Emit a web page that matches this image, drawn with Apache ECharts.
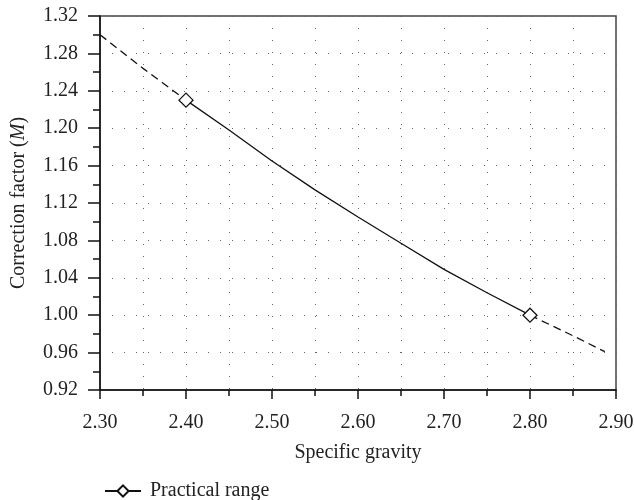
<!DOCTYPE html>
<html>
<head>
<meta charset="utf-8">
<script src="https://cdn.jsdelivr.net/npm/echarts@6/dist/echarts.min.js"></script>
<style>html,body{margin:0;padding:0;background:#fff}#c{width:634px;height:500px}</style>
</head>
<body>
<div id="c"></div>
<script>
// Data
var xPractical = [2.40, 2.45, 2.50, 2.55, 2.60, 2.65, 2.70, 2.75, 2.80];
var yPractical = [1.230, 1.198, 1.165, 1.134, 1.105, 1.077, 1.049, 1.024, 1.000];
var xLowExt = [2.30, 2.35, 2.40];
var yLowExt = [1.300, 1.264, 1.230];
var xHighExt = [2.80, 2.85, 2.887];
var yHighExt = [1.000, 0.978, 0.961];
var seriesName = 'Practical range';
var xAxisName = 'Specific gravity';

var FONT = '"Liberation Serif", "DejaVu Serif", serif';
var FS = 20;

function pairs(xs, ys) { return xs.map(function (x, i) { return [x, ys[i]]; }); }
var practicalData = pairs(xPractical, yPractical).map(function (p, i, arr) {
  return (i === 0 || i === arr.length - 1) ? { value: p } : { value: p, symbol: 'none' };
});

var chart = echarts.init(document.getElementById('c'), null, { renderer: 'canvas' });
var dotted = { color: '#666', width: 1, type: [1, 11] };
chart.setOption({
  animation: false,
  backgroundColor: '#fff',
  textStyle: { fontFamily: FONT },
  grid: { left: 100, right: 18, top: 16, bottom: 110, outerBoundsMode: 'none', containLabel: false, show: true, borderColor: '#444', borderWidth: 1.5, backgroundColor: 'transparent' },
  legend: {
    data: [seriesName],
    left: 99, top: 476,
    itemWidth: 36, itemHeight: 14, itemGap: 10,
    textStyle: { fontFamily: FONT, fontSize: FS, color: '#222', padding: [0, 0, 0, 4] }
  },
  xAxis: {
    type: 'value', min: 2.30, max: 2.90, interval: 0.10,
    name: xAxisName, nameLocation: 'middle', nameGap: 53,
    nameTextStyle: { fontFamily: FONT, fontSize: FS, color: '#222' },
    axisLine: { show: true, lineStyle: { color: '#111', width: 1.5 } },
    axisTick: { show: true, inside: false, length: 9, lineStyle: { color: '#111', width: 1.5 } },
    minorTick: { show: true, splitNumber: 2, length: 6, lineStyle: { color: '#111', width: 1.5 } },
    axisLabel: { fontFamily: FONT, fontSize: FS, color: '#222', margin: 23, formatter: function (v) { return v.toFixed(2); } },
    splitLine: { show: true, lineStyle: dotted },
    minorSplitLine: { show: true, lineStyle: dotted }
  },
  yAxis: {
    type: 'value', min: 0.92, max: 1.32, interval: 0.04,
    name: '{a|Correction factor (}{i|M}{a|)}', nameLocation: 'middle', nameGap: 71, nameRotate: 90,
    nameTextStyle: {
      fontFamily: FONT, fontSize: FS, color: '#222',
      rich: { a: { fontFamily: FONT, fontSize: FS, color: '#222' }, i: { fontFamily: FONT, fontSize: FS, color: '#222', fontStyle: 'italic' } }
    },
    axisLine: { show: true, lineStyle: { color: '#111', width: 1.5 } },
    axisTick: { show: true, inside: false, length: 12, lineStyle: { color: '#111', width: 1.5 } },
    minorTick: { show: true, splitNumber: 2, length: 7, lineStyle: { color: '#111', width: 1.5 } },
    axisLabel: { fontFamily: FONT, fontSize: FS, color: '#222', margin: 22, formatter: function (v) { return v.toFixed(2); } },
    splitLine: { show: true, lineStyle: dotted },
    minorSplitLine: { show: false }
  },
  series: [
    {
      name: seriesName, type: 'line', data: practicalData,
      symbol: 'diamond', symbolSize: 14, showSymbol: true,
      itemStyle: { color: '#fff', borderColor: '#111', borderWidth: 1.3 },
      lineStyle: { color: '#111', width: 1.3 },
      z: 3
    },
    {
      name: 'lowExt', type: 'line', data: pairs(xLowExt, yLowExt), symbol: 'none',
      lineStyle: { color: '#111', width: 1.3, type: [8, 5] }, z: 2
    },
    {
      name: 'highExt', type: 'line', data: pairs(xHighExt, yHighExt), symbol: 'none',
      lineStyle: { color: '#111', width: 1.3, type: [8, 5] }, z: 2
    }
  ]
});
</script>
</body>
</html>
